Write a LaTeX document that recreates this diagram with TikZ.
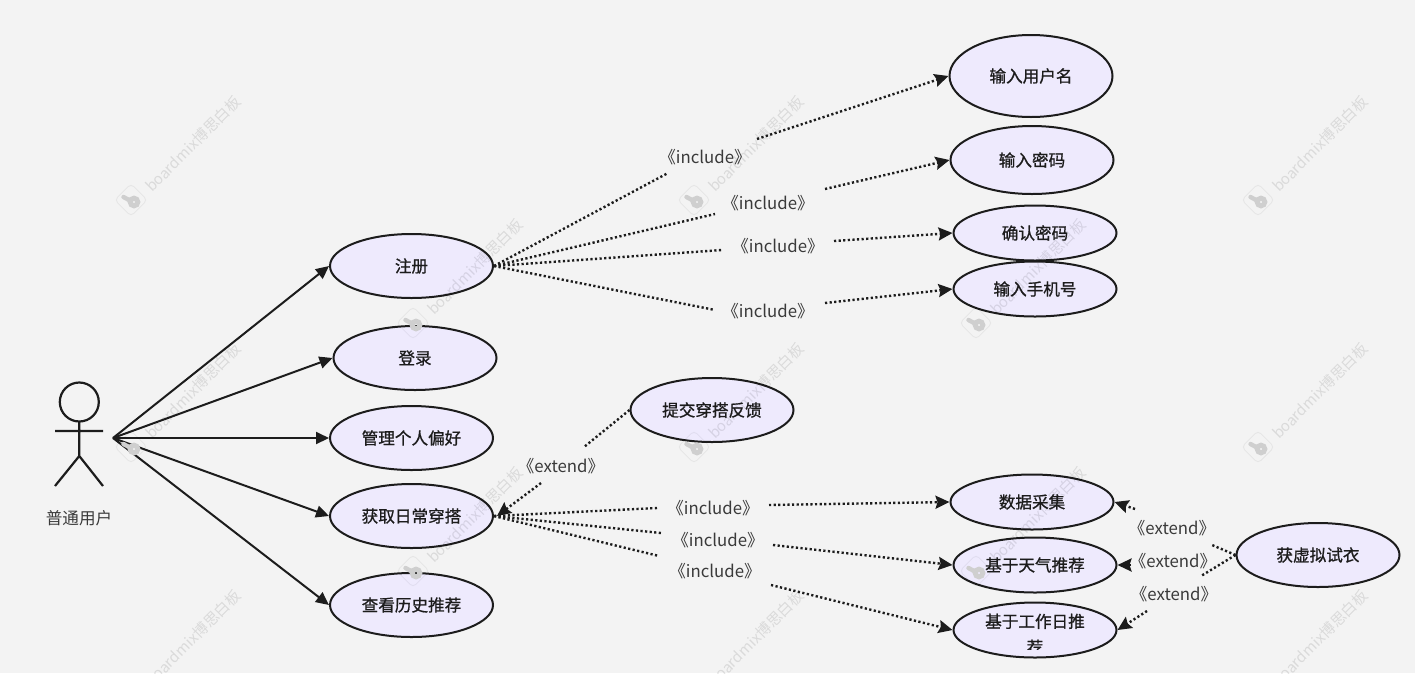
\documentclass[tikz,border=0pt]{standalone}
\usepackage{fontspec}
\setmainfont{Noto Sans CJK SC}
\newfontfamily\heavycjk[FakeBold=0.9]{Noto Sans CJK SC}
\usetikzlibrary{shapes.geometric,arrows.meta}
\definecolor{bgc}{HTML}{F3F3F3}
\definecolor{usec}{HTML}{EEEAFD}
\definecolor{inkc}{HTML}{1C1C1C}
\definecolor{labc}{HTML}{3A3A3A}
\newcommand{\wmark}[2]{%
  \node[wmtext,anchor=west] (wm#1#2) at (#1,#2) {boardmix博思白板};
  \begin{scope}[shift={(#1-17,#2+11)}]
    \draw[wmbox,rotate=45] (-11.5,-11.5) rectangle (11.5,11.5);
    \draw[wmink,line width=5pt] (3,2) circle (3.8);
    \draw[wmink,line width=4.4pt,line cap=round] (-0.5,0.8) -- (-7.5,-3);
  \end{scope}}
\tikzset{
  usecase/.style={ellipse,draw=inkc,fill=usec,line width=2pt,inner sep=0pt,minimum width=163pt,font=\fontsize{16.6}{22}\selectfont\heavycjk,text=inkc,align=center},
  rel/.style={font=\fontsize{16.8}{20}\selectfont,text=labc,inner sep=0pt},
  solidarrow/.style={draw=inkc,line width=2pt,-{Triangle[length=13pt,width=12pt]}},
  dotline/.style={draw=inkc,line width=2.4pt,dash pattern=on 2.2pt off 2.4pt},
  dotarrow/.style={dotline,-{Stealth[inset=2pt,length=14pt,width=13pt,fill=inkc]}},
  figure/.style={draw=inkc,line width=2.2pt},
  wmtext/.style={rotate=45,text=black,opacity=.1,font=\fontsize{15}{18}\selectfont,inner sep=0pt},
  wmbox/.style={draw=black,opacity=.05,line width=1pt,rounded corners=4pt},
  wmink/.style={draw=bgc!85!black}
}
\begin{document}
\begin{tikzpicture}[x=1pt,y=-1pt]
\path[fill=bgc] (0,0) rectangle (1415,673);
\useasboundingbox (0,0) rectangle (1415,673);
% actor
\draw[figure] (79.3,402) circle (19.5);
\draw[figure] (79.3,421.5) -- (79.3,456) (55,431) -- (103,431) (55,486) -- (79.3,456) -- (103,486);
\node[font=\fontsize{16.6}{20}\selectfont,text=labc,inner sep=0pt] (actorname) at (79,518) {普通用户};
\coordinate (actor) at (113,438);
% use cases
\node[usecase,minimum height=82pt] (n1) at (1031,76) {输入用户名};
\node[usecase,minimum height=68pt] (n2) at (1032,160) {输入密码};
\node[usecase,minimum height=55pt] (n3) at (1035,233) {确认密码};
\node[usecase,minimum height=55pt] (n4) at (1035,289) {输入手机号};
\node[usecase,minimum height=64pt] (reg) at (411.5,266) {注册};
\node[usecase,minimum height=64pt] (login) at (415,358) {登录};
\node[usecase,minimum height=64pt] (pref) at (411.5,438) {管理个人偏好};
\node[usecase,minimum height=64pt] (daily) at (411.5,516) {获取日常穿搭};
\node[usecase,minimum height=64pt] (hist) at (411.5,605) {查看历史推荐};
\node[usecase,minimum height=64pt] (fb) at (712,410) {提交穿搭反馈};
\node[usecase,minimum height=55pt] (data) at (1032,502) {数据采集};
\node[usecase,minimum height=55pt] (weather) at (1035,565) {基于天气推荐};
\node[usecase,minimum height=55pt] (work) at (1035,630) {};
\node[usecase,minimum height=64pt] (try) at (1318,555) {获虚拟试衣};
\begin{scope}
  \clip (950,600) rectangle (1120,649);
  \node[font=\fontsize{16.6}{26}\selectfont\heavycjk,text=inkc,align=center,inner sep=0pt,anchor=north] (worktext) at (1035,613.5) {基于工作日推\\荐};
\end{scope}
% actor associations
\draw[solidarrow] (actor) -- (reg.west);
\draw[solidarrow] (actor) -- (login.west);
\draw[solidarrow] (actor) -- (pref.west);
\draw[solidarrow] (actor) -- (daily.west);
\draw[solidarrow] (actor) -- (hist.west);
% labels
\node[rel] (l1) at (705,157) {《include》};
\node[rel] (l2) at (768,203) {《include》};
\node[rel] (l3) at (778,246) {《include》};
\node[rel] (l4) at (768,311) {《include》};
\node[rel] (l5) at (561,466) {《extend》};
\node[rel] (l6) at (713,508) {《include》};
\node[rel] (l7) at (718,540) {《include》};
\node[rel] (l8) at (715,571) {《include》};
\node[rel] (l9) at (1172,528) {《extend》};
\node[rel] (l10) at (1173,561) {《extend》};
\node[rel] (l11) at (1174,594) {《extend》};
% free ends
\coordinate (a1) at (668,173); \coordinate (b1) at (757,139);
\coordinate (a2) at (715,214); \coordinate (b2) at (825,189);
\coordinate (a3) at (722,250); \coordinate (b3) at (834,241);
\coordinate (a4) at (715,310); \coordinate (b4) at (825,303);
\coordinate (a5) at (584,447); \coordinate (b5) at (541,483);
\coordinate (a6) at (657,508); \coordinate (b6) at (769,505);
\coordinate (a7) at (661,533); \coordinate (b7) at (773,545);
\coordinate (a8) at (659,556); \coordinate (b8) at (771,585);
\coordinate (a9) at (1212,545); \coordinate (b9) at (1135,509);
\coordinate (a10) at (1201,576); \coordinate (b10) at (1131,565);
\coordinate (b11) at (1147,611);
\coordinate (t5) at (497,516);
% register includes
\draw[dotline] (reg.east) -- (a1); \draw[dotarrow] (b1) -- (n1.west);
\draw[dotline] (reg.east) -- (a2); \draw[dotarrow] (b2) -- (n2.west);
\draw[dotline] (reg.east) -- (a3); \draw[dotarrow] (b3) -- (n3.west);
\draw[dotline] (reg.east) -- (a4); \draw[dotarrow] (b4) -- (n4.west);
% daily
\draw[dotline] (fb.west) -- (a5); \draw[dotarrow] (b5) -- (t5);
\draw[dotline] (daily.east) -- (a6); \draw[dotarrow] (b6) -- (data.west);
\draw[dotline] (daily.east) -- (a7); \draw[dotarrow] (b7) -- (weather.west);
\draw[dotline] (daily.east) -- (a8); \draw[dotarrow] (b8) -- (work.west);
% try-on
\draw[dotline] (try.west) -- (a9); \draw[dotarrow] (b9) -- (data.east);
\draw[dotline] (try.west) -- (a10); \draw[dotarrow] (b10) -- (weather.east);
\draw[dotarrow] (b11) -- (work.east);
% watermarks
\wmark{148}{189}\wmark{711}{189}\wmark{1275}{189}
\wmark{430}{312}\wmark{993}{312}
\wmark{148}{436}\wmark{711}{436}\wmark{1275}{436}
\wmark{430}{560}\wmark{993}{560}
\wmark{148}{683}\wmark{711}{683}\wmark{1275}{683}
\end{tikzpicture}
\end{document}
